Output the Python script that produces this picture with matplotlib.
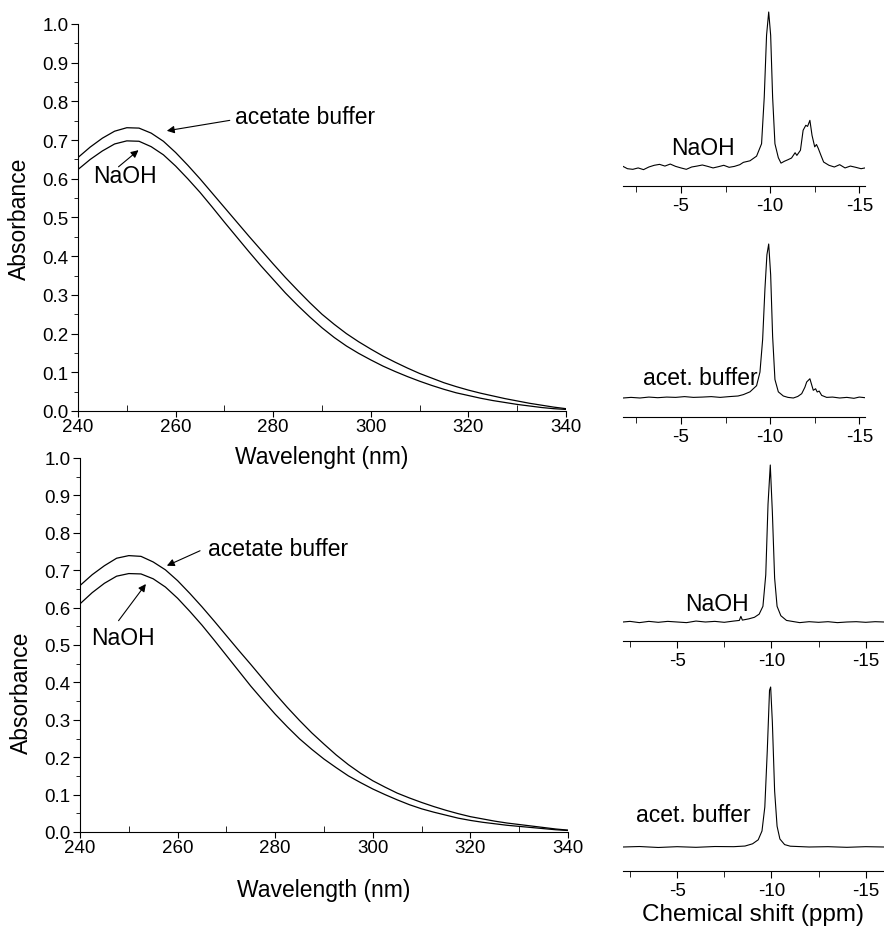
import matplotlib
matplotlib.use("Agg")
import matplotlib.pyplot as plt
from matplotlib.ticker import MultipleLocator

plt.rcParams['font.family'] = ['Liberation Sans', 'DejaVu Sans']
plt.rcParams['axes.unicode_minus'] = False

# UV-vis spectra
wavelength = [240, 242.5, 245, 247.5, 250, 252.5, 255, 257.5, 260, 262.5, 265, 267.5, 270, 272.5,
              275, 277.5, 280, 282.5, 285, 287.5, 290, 292.5, 295, 297.5, 300, 302.5, 305, 307.5,
              310, 312.5, 315, 317.5, 320, 322.5, 325, 327.5, 330, 332.5, 335, 337.5, 340]
top_acetate = [0.655, 0.682, 0.705, 0.723, 0.732, 0.731, 0.718, 0.697, 0.668, 0.635, 0.600, 0.563,
               0.526, 0.489, 0.452, 0.416, 0.380, 0.345, 0.312, 0.280, 0.250, 0.224, 0.200, 0.179,
               0.160, 0.142, 0.126, 0.111, 0.097, 0.085, 0.073, 0.063, 0.054, 0.046, 0.039, 0.032,
               0.026, 0.020, 0.015, 0.010, 0.006]
top_naoh = [0.624, 0.650, 0.672, 0.690, 0.698, 0.697, 0.683, 0.662, 0.633, 0.600, 0.565, 0.527,
            0.488, 0.450, 0.412, 0.375, 0.340, 0.305, 0.273, 0.243, 0.215, 0.190, 0.168, 0.149,
            0.132, 0.116, 0.102, 0.089, 0.077, 0.066, 0.056, 0.047, 0.040, 0.033, 0.027, 0.022,
            0.017, 0.013, 0.009, 0.006, 0.004]
bot_acetate = [0.659, 0.688, 0.712, 0.732, 0.739, 0.737, 0.722, 0.701, 0.672, 0.638, 0.602, 0.564,
               0.525, 0.486, 0.448, 0.409, 0.370, 0.333, 0.298, 0.265, 0.235, 0.206, 0.180, 0.157,
               0.137, 0.120, 0.104, 0.091, 0.079, 0.068, 0.058, 0.049, 0.041, 0.035, 0.029, 0.024,
               0.020, 0.016, 0.012, 0.008, 0.005]
bot_naoh = [0.610, 0.640, 0.665, 0.684, 0.691, 0.690, 0.677, 0.655, 0.625, 0.590, 0.553, 0.513,
            0.472, 0.431, 0.390, 0.352, 0.315, 0.281, 0.249, 0.221, 0.195, 0.172, 0.150, 0.132,
            0.115, 0.100, 0.086, 0.073, 0.062, 0.053, 0.045, 0.037, 0.031, 0.026, 0.022, 0.018,
            0.015, 0.012, 0.009, 0.006, 0.004]

# NMR spectra (normalised intensity)
nmr1_ppm = [-1.75, -2.0, -2.3, -2.6, -2.9, -3.2, -3.5, -3.8, -4.1, -4.4, -4.7, -5.0, -5.3, -5.6, -5.9,
            -6.2, -6.5, -6.8, -7.1, -7.4, -7.7, -8.0, -8.3, -8.5, -8.87, -9.24, -9.52, -9.67, -9.8, -9.92,
            -10.03, -10.14, -10.27, -10.46, -10.61, -10.8, -11.0, -11.2, -11.4, -11.5, -11.7, -11.85, -12.0,
            -12.1, -12.23, -12.35, -12.5, -12.6, -12.7, -12.85, -13.0, -13.3, -13.6, -13.9, -14.2, -14.5,
            -14.8, -15.1, -15.32]
nmr1_int = [0.004, -0.011, -0.015, -0.006, -0.017, 0.0, 0.011, 0.017, 0.006, 0.019, 0.004, -0.006, -0.015,
            0.0, 0.006, 0.013, 0.004, -0.006, 0.002, 0.011, -0.002, 0.004, 0.015, 0.03, 0.04, 0.07, 0.15,
            0.45, 0.85, 1.0, 0.85, 0.45, 0.15, 0.06, 0.025, 0.037, 0.047, 0.058, 0.092, 0.075, 0.108, 0.237,
            0.269, 0.262, 0.301, 0.204, 0.13, 0.145, 0.12, 0.075, 0.032, 0.011, 0.0, 0.015, -0.006, 0.006,
            -0.002, -0.011, -0.006]

nmr2_ppm = [-1.75, -2.2, -2.7, -3.2, -3.7, -4.2, -4.7, -5.2, -5.7, -6.2, -6.7, -7.2, -7.7, -8.2, -8.5,
            -8.87, -9.24, -9.43, -9.58, -9.71, -9.82, -9.92, -10.03, -10.14, -10.27, -10.46, -10.74, -11.0,
            -11.3, -11.55, -11.77, -11.95, -12.05, -12.23, -12.42, -12.55, -12.64, -12.75, -12.89, -13.17,
            -13.5, -13.9, -14.3, -14.7, -15.0, -15.32]
nmr2_int = [0.0, 0.004, 0.0, 0.006, 0.002, 0.006, 0.004, 0.009, 0.004, 0.006, 0.009, 0.004, 0.009, 0.013,
            0.022, 0.04, 0.08, 0.168, 0.38, 0.71, 0.93, 1.0, 0.8, 0.4, 0.12, 0.04, 0.013, 0.004, 0.0, 0.01,
            0.028, 0.07, 0.104, 0.125, 0.05, 0.06, 0.039, 0.045, 0.017, 0.004, 0.006, 0.0, 0.004, -0.002,
            0.006, 0.002]

nmr3_ppm = [-2.13, -2.5, -3.0, -3.5, -4.0, -4.5, -5.0, -5.5, -6.0, -6.5, -7.0, -7.5, -8.0, -8.3, -8.38,
            -8.46, -8.8, -9.1, -9.35, -9.55, -9.7, -9.82, -9.94, -10.05, -10.17, -10.3, -10.5, -10.8, -11.2,
            -11.5, -12.0, -12.5, -13.0, -13.5, -14.0, -14.5, -15.0, -15.5, -15.97]
nmr3_int = [0.0, 0.004, -0.004, 0.004, -0.002, 0.004, 0.0, -0.004, 0.006, 0.0, 0.004, -0.002, 0.006, 0.01,
            0.036, 0.012, 0.02, 0.03, 0.05, 0.1, 0.3, 0.75, 1.0, 0.7, 0.28, 0.1, 0.04, 0.01, 0.002, -0.004,
            0.002, -0.002, 0.002, -0.004, 0.0, 0.002, -0.002, 0.002, 0.0]

nmr4_ppm = [-2.13, -3.0, -4.0, -5.0, -6.0, -7.0, -8.0, -8.6, -9.0, -9.3, -9.5, -9.65, -9.78, -9.9, -9.96,
            -10.05, -10.17, -10.3, -10.45, -10.7, -11.0, -12.0, -13.0, -14.0, -15.0, -15.97]
nmr4_int = [0.0, 0.003, -0.003, 0.002, -0.002, 0.003, 0.002, 0.006, 0.02, 0.045, 0.1, 0.25, 0.6, 0.98, 1.0,
            0.78, 0.35, 0.13, 0.05, 0.015, 0.005, 0.0, 0.002, -0.002, 0.002, 0.0]

W, H = 884, 937
fig = plt.figure(figsize=(W / 100, H / 100), dpi=100)


def px_axes(left, top, right, bottom):
    ax = fig.add_axes([left / W, 1 - bottom / H, (right - left) / W, (bottom - top) / H])
    ax.patch.set_visible(False)
    return ax


def uv_panel(ax, acet, naoh, xlabel, xlab_y, ylab_y):
    ax.plot(wavelength, acet, color='black', lw=0.9)
    ax.plot(wavelength, naoh, color='black', lw=0.9)
    ax.set_xlim(240, 340)
    ax.set_ylim(0, 1.0)
    for s in ['top', 'right']:
        ax.spines[s].set_visible(False)
    ax.xaxis.set_major_locator(MultipleLocator(20))
    ax.xaxis.set_minor_locator(MultipleLocator(10))
    ax.yaxis.set_major_locator(MultipleLocator(0.1))
    ax.yaxis.set_minor_locator(MultipleLocator(0.05))
    ax.yaxis.set_major_formatter(plt.FormatStrFormatter('%.1f'))
    ax.tick_params(axis='x', which='major', direction='out', length=4, labelsize=13.5, pad=1)
    ax.tick_params(axis='x', which='minor', direction='in', length=4)
    ax.tick_params(axis='y', which='major', direction='out', length=5, labelsize=13.5, pad=2)
    ax.tick_params(axis='y', which='minor', direction='out', length=3)
    ax.set_xlabel(xlabel, fontsize=16.5)
    ax.set_ylabel('Absorbance', fontsize=16.5)
    ax.xaxis.label.set_va('center')
    ax.yaxis.label.set_va('center')
    ax.xaxis.set_label_coords(0.5, xlab_y)
    ax.yaxis.set_label_coords(-0.119, ylab_y)


arrow = dict(arrowstyle='-|>', color='black', lw=0.8, mutation_scale=11, shrinkA=0, shrinkB=0)

ax1 = px_axes(78, 25, 566, 412)
uv_panel(ax1, top_acetate, top_naoh, 'Wavelenght (nm)', -46 / 387, 0.5)
ax1.annotate('', xy=(258.2, 0.724), xytext=(271.1, 0.751), arrowprops=arrow)
ax1.text(272.2, 0.76, 'acetate buffer', fontsize=16.5, va='center', ha='left')
ax1.annotate('', xy=(252.4, 0.674), xytext=(248.3, 0.631), arrowprops=arrow)
ax1.text(249.6, 0.609, 'NaOH', fontsize=16.5, va='center', ha='center')

ax2 = px_axes(80, 459, 568, 833)
uv_panel(ax2, bot_acetate, bot_naoh, 'Wavelength (nm)', -58 / 374, 0.374)
ax2.annotate('', xy=(257.8, 0.712), xytext=(264.6, 0.752), arrowprops=arrow)
ax2.text(266.2, 0.757, 'acetate buffer', fontsize=16.5, va='center', ha='left')
ax2.annotate('', xy=(253.5, 0.663), xytext=(247.9, 0.565), arrowprops=arrow)
ax2.text(248.7, 0.521, 'NaOH', fontsize=16.5, va='center', ha='center')


def nmr_panel(ax, ppm, inten, xlim, ylim, label, lx, ly):
    ax.plot(ppm, inten, color='black', lw=0.8)
    ax.set_xlim(*xlim)
    ax.set_ylim(*ylim)
    for s in ['top', 'right', 'left']:
        ax.spines[s].set_visible(False)
    ax.set_yticks([])
    ax.xaxis.set_major_locator(MultipleLocator(5))
    ax.xaxis.set_minor_locator(MultipleLocator(2.5))
    ax.xaxis.set_major_formatter(plt.FormatStrFormatter('%d'))
    ax.tick_params(axis='x', which='major', direction='out', length=5, labelsize=13.5, pad=3)
    ax.tick_params(axis='x', which='minor', direction='out', length=4)
    ax.text(lx, ly, label, fontsize=16.5, ha='center', va='center')


ax3 = px_axes(623, 8, 865, 187)
nmr_panel(ax3, nmr1_ppm, nmr1_int, (-1.75, -15.32), (-19 / 155, 160 / 155), 'NaOH', -6.23, 0.129)
ax4 = px_axes(623, 240, 865, 418)
nmr_panel(ax4, nmr2_ppm, nmr2_int, (-1.75, -15.32), (-19 / 154, 159 / 154), 'acet. buffer', -6.07, 0.136)
ax5 = px_axes(623, 462, 884, 642)
nmr_panel(ax5, nmr3_ppm, nmr3_int, (-2.13, -15.97), (-19 / 157, 161 / 157), 'NaOH', -7.12, 0.119)
ax6 = px_axes(623, 684, 884, 872)
nmr_panel(ax6, nmr4_ppm, nmr4_int, (-2.13, -15.97), (-24 / 160, 164 / 160), 'acet. buffer', -5.85, 0.206)
ax6.set_xlabel('Chemical shift (ppm)', fontsize=17.5, labelpad=3)

fig.savefig('out.png', dpi=100)
